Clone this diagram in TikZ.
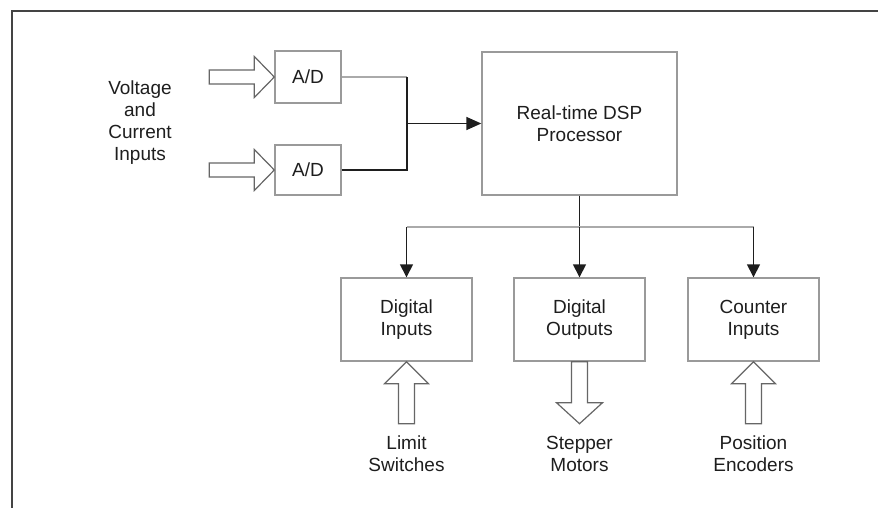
\documentclass[tikz,border=0pt]{standalone}
\usepackage{fontspec}
\setmainfont{Liberation Sans}
\usetikzlibrary{arrows.meta,calc}
\definecolor{boxgray}{HTML}{9A9A9A}
\definecolor{linegray}{HTML}{AAAAAA}
\definecolor{ink}{HTML}{1E1E1E}
\definecolor{framecol}{HTML}{444444}
\definecolor{arrgray}{HTML}{666666}
\tikzset{
  blk/.style={draw=boxgray, line width=1.4pt, fill=white, inner sep=0pt,
    align=center, text=ink, font=\fontsize{19}{22}\selectfont},
  lbl/.style={align=center, text=ink, inner sep=0pt, font=\fontsize{19}{22}\selectfont},
  conn/.style={draw=ink, line width=1.5pt},
  conng/.style={draw=linegray, line width=1.5pt},
  arr/.style={conn, -{Triangle[length=13pt,width=13pt]}},
  arrh/.style={conn, -{Triangle[length=15pt,width=13pt]}},
  fat/.style={draw=arrgray, line width=1.2pt, fill=white, line join=miter}
}
\begin{document}
\begin{tikzpicture}[x=1pt,y=-1pt]
\useasboundingbox (0,0) rectangle (878,508);
\fill[white] (0,0) rectangle (878,508);
% frame
\draw[framecol, line width=2pt] (12,508) -- (12,11.5) -- (878,11.5);

% blocks
\node[blk, minimum width=66pt, minimum height=52pt] (ad1) at (308,77) {A/D};
\node[blk, minimum width=66pt, minimum height=50pt] (ad2) at (308,170) {A/D};
\node[blk, minimum width=195pt, minimum height=143pt] (dsp) at (579.5,123.5) {Real-time DSP\\Processor};
\node[blk, minimum width=131pt, minimum height=83pt] (di) at (406.5,319.5) {Digital\\Inputs};
\node[blk, minimum width=131pt, minimum height=83pt] (do) at (579.5,319.5) {Digital\\Outputs};
\node[blk, minimum width=131pt, minimum height=83pt] (ci) at (753.5,319.5) {Counter\\Inputs};

% labels
\node[lbl] (vci) at (140,122.5) {Voltage\\and\\Current\\Inputs};
\node[lbl] (lim) at (406.5,453.5) {Limit\\Switches};
\node[lbl] (stp) at (579.5,453.5) {Stepper\\Motors};
\node[lbl] (pos) at (753.5,453.5) {Position\\Encoders};

% fat input arrows (tip at block)
\draw[fat, shift={(ad1.west)}] (0,0) -- (-20,-20.5) -- (-20,-7) -- (-65,-7) -- (-65,7) -- (-20,7) -- (-20,20.5) -- cycle;
\draw[fat, shift={(ad2.west)}] (0,0) -- (-20,-20.5) -- (-20,-7) -- (-65,-7) -- (-65,7) -- (-20,7) -- (-20,20.5) -- cycle;

% fat up/down arrows
\draw[fat, shift={(di.south)}] (0,0) -- (22,22) -- (8,22) -- (8,62) -- (-8,62) -- (-8,22) -- (-22,22) -- cycle;
\draw[fat, shift={(do.south)}] (-8,0) -- (8,0) -- (8,41) -- (23,41) -- (0,62) -- (-23,41) -- (-8,41) -- cycle;
\draw[fat, shift={(ci.south)}] (0,0) -- (22,22) -- (8,22) -- (8,62) -- (-8,62) -- (-8,22) -- (-22,22) -- cycle;

% A/D to DSP
\coordinate (j) at (407,123.5);
\coordinate (jt) at (407,77);
\draw[conng] (ad1.east) -- (jt);
\draw[conn] (ad2.east) -| (jt);
\draw[arrh] (j) -- (dsp.west);

% DSP to outputs bus
\coordinate (bus) at (579.5,227);
\draw[conn] (dsp.south) -- (bus);
\draw[conng] (di.north |- bus) -- (ci.north |- bus);
\draw[arr] (di.north |- bus) -- (di.north);
\draw[arr] (bus) -- (do.north);
\draw[arr] (ci.north |- bus) -- (ci.north);
\end{tikzpicture}
\end{document}
